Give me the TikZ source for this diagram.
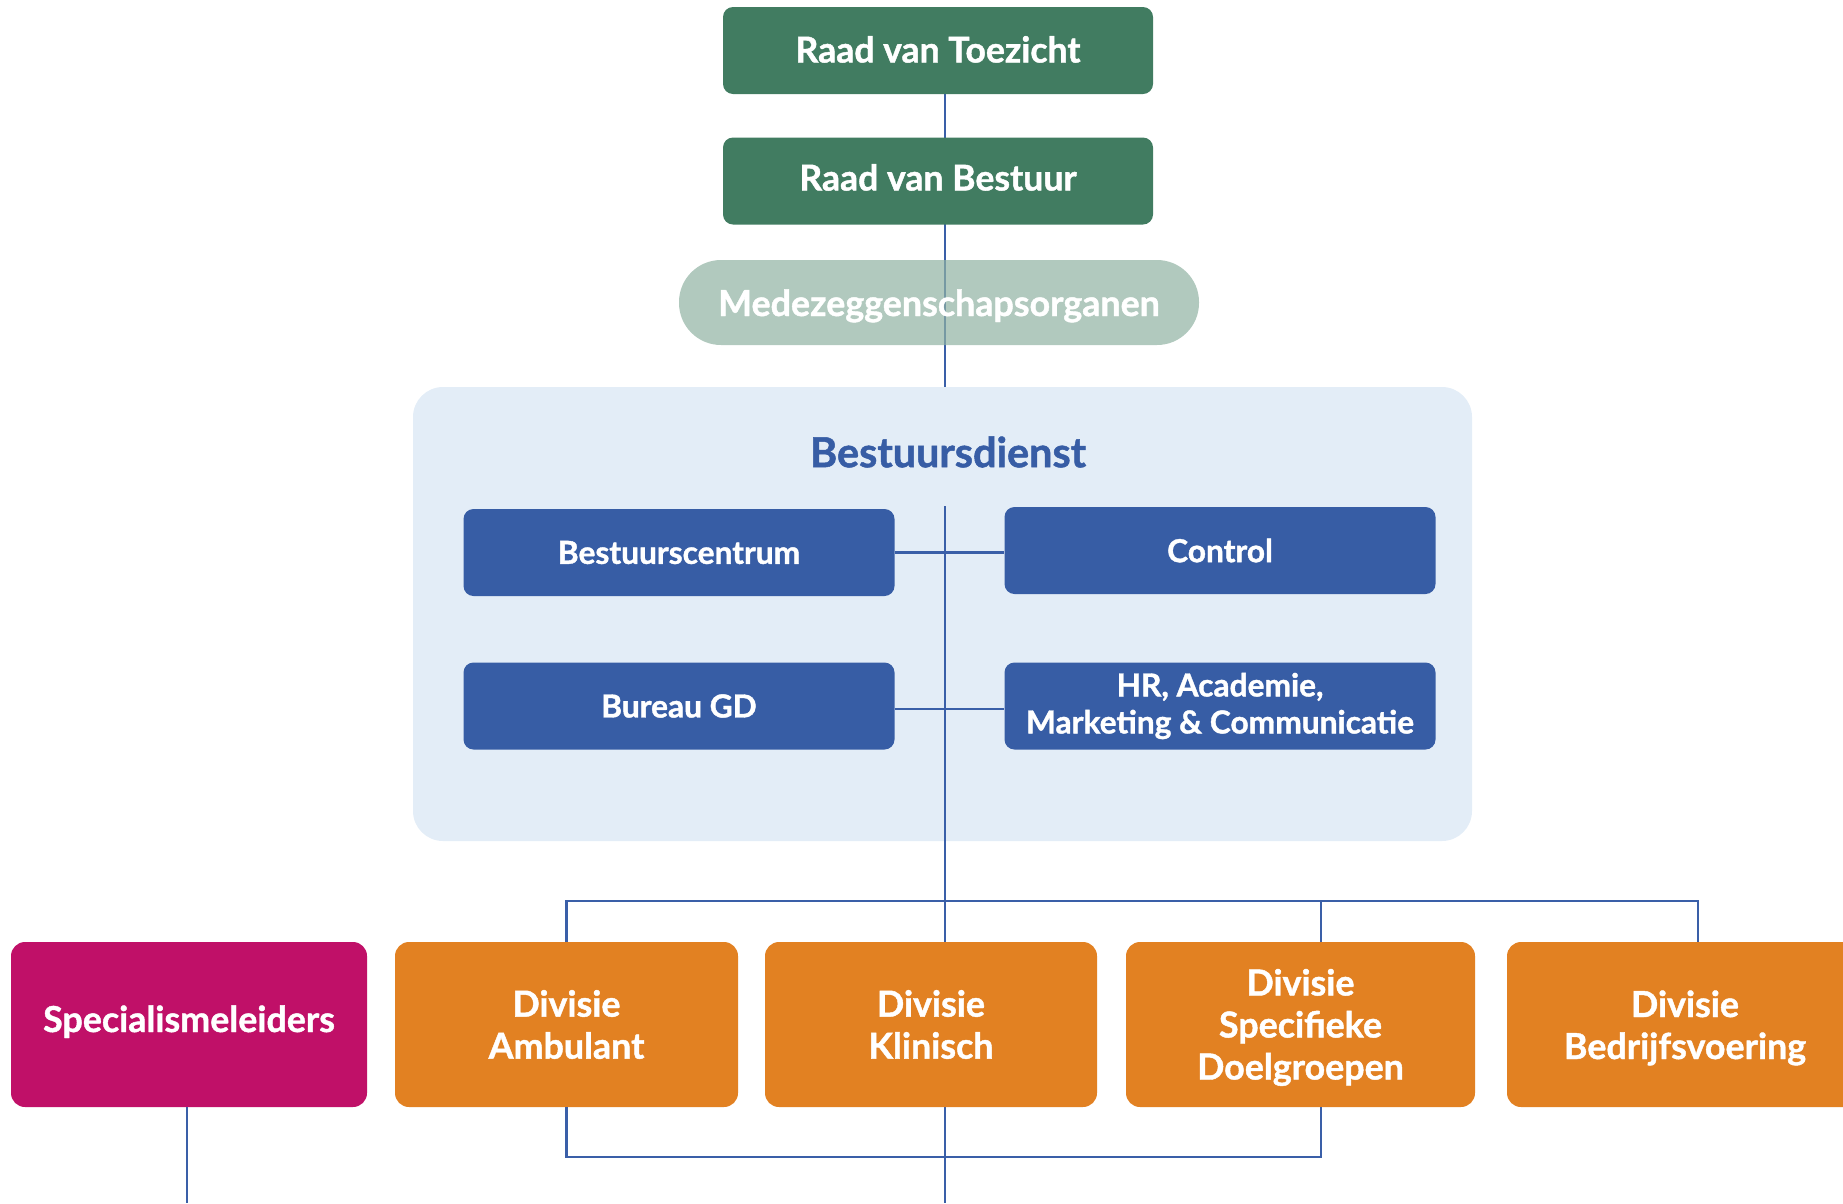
\documentclass[tikz,border=0pt]{standalone}
\usepackage{fontspec}
\setmainfont{Lato}[BoldFeatures={FakeBold=1.2}]
\usetikzlibrary{backgrounds}
\definecolor{dgreen}{RGB}{65,124,97}
\definecolor{lgreen}{RGB}{144,178,162}
\definecolor{lblue}{RGB}{227,237,247}
\definecolor{dblue}{RGB}{55,93,165}
\definecolor{lineblue}{RGB}{58,95,168}
\definecolor{magenta}{RGB}{192,16,104}
\definecolor{orange}{RGB}{226,129,34}
\begin{document}
\begin{tikzpicture}[x=1pt,y=-1pt,
  greenbox/.style={fill=dgreen,rounded corners=10pt,minimum width=430pt,minimum height=87pt,text=white,font=\fontsize{35.6}{40}\selectfont\bfseries,inner sep=0pt},
  pill/.style={fill=lgreen,fill opacity=0.7,text opacity=1,rounded corners=42pt,minimum width=520pt,minimum height=85pt,text=white,font=\fontsize{35.8}{40}\selectfont\bfseries,inner sep=0pt},
  bluebox/.style={fill=dblue,rounded corners=10pt,minimum width=431pt,minimum height=87pt,text=white,align=center,font=\fontsize{31.7}{37}\selectfont\bfseries,inner sep=0pt},
  divbox/.style={fill=orange,rounded corners=14pt,minimum height=165pt,text=white,align=center,font=\fontsize{35.8}{42}\selectfont\bfseries,inner sep=0pt},
  conn/.style={draw=lineblue,line width=2.2pt}
]
\useasboundingbox (0,0) rectangle (1843,1203);
% top
\node[greenbox,text height=24pt,text depth=0pt] (rvt) at (938,50.5) {Raad van Toezicht};
\node[greenbox,text height=19pt,text depth=0pt] (rvb) at (938,181) {Raad van Bestuur};
% Bestuursdienst container
\coordinate (bdtop) at (945,387);
\begin{pgfonlayer}{background}
\draw[conn] (rvt.south -| bdtop) -- (bdtop);
\end{pgfonlayer}
\node[fill=lblue,rounded corners=30pt,minimum width=1059pt,minimum height=454pt,inner sep=0pt] (bd) at (942.5,614) {};
\node[text=dblue,font=\fontsize{41.4}{44}\selectfont\bfseries] (bdtitle) at (948,452) {Bestuursdienst};
% middle line and connectors
\coordinate (vtop) at (945,506);
\coordinate (vbot) at (945,1203);
\draw[conn] (vtop) -- (vbot);
\node[bluebox] (bc) at (679,552.5) {Bestuurscentrum};
\node[bluebox] (ctrl) at (1220,550.5) {Control};
\node[bluebox] (bgd) at (679,706) {Bureau GD};
\node[bluebox] (hr) at (1220,706) {HR, Academie,\\Marketing \& Communicatie};
\draw[conn] (bc.east) -- (bc.east -| ctrl.west);
\draw[conn] ([yshift=-3pt]bgd.east) -- ([yshift=-3pt]bgd.east -| hr.west);
% pill (semi-transparent over line)
\node[pill,text height=27pt,text depth=0pt] (mz) at (939,302.5) {Medezeggenschapsorganen};
% bottom
\node[divbox,fill=magenta,minimum width=356pt,text height=15pt,text depth=0pt] (spec) at (189,1024.5) {Specialismeleiders};
\node[divbox,minimum width=343pt] (amb) at (566.5,1024.5) {Divisie\\Ambulant};
\node[divbox,minimum width=332pt] (kli) at (931,1024.5) {Divisie\\Klinisch};
\node[divbox,minimum width=349pt,text height=110pt,text depth=0pt] (sdg) at (1300.5,1024.5) {Divisie\\Specifieke\\Doelgroepen};
\node[divbox,minimum width=356pt,text height=69pt,text depth=0pt] (bed) at (1685,1024.5) {Divisie\\Bedrijfsvoering};
\coordinate (spb) at (187,1203);
\draw[conn] ([xshift=-2pt]spec.south) -- (spb);
\draw[conn] (amb.north) -- ++(0,-41) -| ([xshift=13pt]bed.north);
\draw[conn] ([xshift=20.5pt]sdg.north) -- ++(0,-41);
\draw[conn] (amb.south) -- ++(0,50) -| ([xshift=20.5pt]sdg.south);
\end{tikzpicture}
\end{document}
